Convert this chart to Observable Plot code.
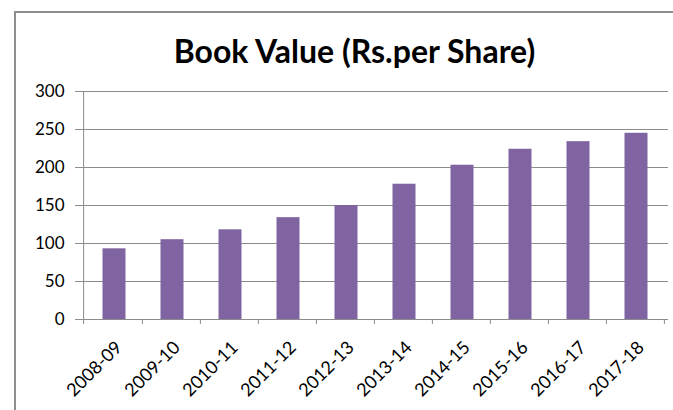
<!DOCTYPE html>
<html>
<head>
<meta charset="utf-8">
<script src="https://cdn.jsdelivr.net/npm/d3@7"></script>
<script src="https://cdn.jsdelivr.net/npm/@observablehq/plot@0.6"></script>
<style>
  html, body { margin: 0; padding: 0; background: #fff; }
  #wrap { position: relative; width: 673px; height: 410px; overflow: hidden; background: #fff; }
  #frame { position: absolute; left: 14px; top: 11px; width: 800px; height: 600px;
           border-left: 2px solid #8e8e8e; border-top: 2px solid #8e8e8e; box-sizing: border-box; }
  #chart { position: absolute; left: 0; top: 0; }
</style>
</head>
<body>
<div id="wrap"><div id="frame"></div><div id="chart"></div></div>
<script>
const years = ["2008-09","2009-10","2010-11","2011-12","2012-13","2013-14","2014-15","2015-16","2016-17","2017-18"];
const bookValue = [93, 105, 118, 134, 150, 178, 203, 224, 234, 245];
const yTicks = [0, 50, 100, 150, 200, 250, 300];
const title = "Book Value (Rs.per Share)";

const data = years.map((y, i) => ({year: y, value: bookValue[i]}));

const W = 673, H = 410, mL = 80, mR = 5, mT = 91, mB = 91;
const step = (W - mL - mR) / years.length;
const gridColor = "#8c8c8c";
const font = "Lato, 'Open Sans', sans-serif";

const chart = Plot.plot({
  width: W, height: H,
  marginLeft: mL, marginRight: mR, marginTop: mT, marginBottom: mB,
  style: {fontFamily: font, fontSize: "16px", color: "#000", background: "transparent"},
  x: {domain: years, paddingInner: 0.6, paddingOuter: 0.3, label: null},
  y: {domain: [0, 300], label: null},
  marks: [
    Plot.ruleY(yTicks.filter(d => d > 0), {stroke: gridColor, strokeWidth: 1, strokeOpacity: 1}),
    Plot.barY(data, {x: "year", y: "value", fill: "#8064a2", dx: 1.5}),
    Plot.ruleY([0], {stroke: gridColor, strokeWidth: 1}),
    Plot.ruleX([years[0]], {y1: -6.6, y2: 300, dx: -step / 2, stroke: gridColor}),
    Plot.ruleX(years, {y1: 0, y2: -6.6, dx: step / 2, stroke: gridColor}),
    Plot.axisY({ticks: yTicks, tickSize: 5, tickPadding: 11, stroke: gridColor, fontSize: 17, label: null}),
    Plot.axisX({tickSize: 0, tickRotate: -45, tickPadding: 25, dx: 6, fontSize: 18, label: null}),
    Plot.text([title], {frameAnchor: "top", dy: -mT + 40, dx: -20, text: d => d, fontSize: 32, fontWeight: "bold", fill: "#000", lineAnchor: "top"})
  ]
});
document.getElementById("chart").appendChild(chart);
</script>
</body>
</html>
